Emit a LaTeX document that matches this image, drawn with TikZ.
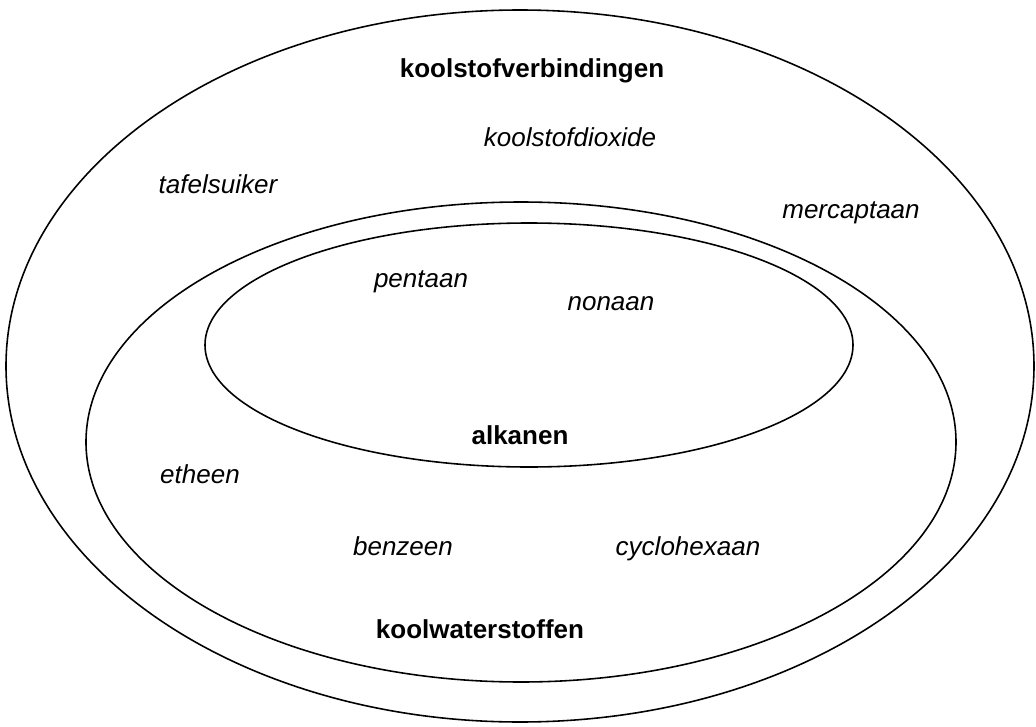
\documentclass[tikz,border=0pt]{standalone}
\usepackage{fontspec}
\setmainfont{Liberation Sans}
\begin{document}
\begin{tikzpicture}[x=0.02cm,y=-0.02cm,
  ring/.style={draw=black,line width=0.9pt},
  lbl/.style={anchor=base,inner sep=0pt,font=\fontsize{14.8pt}{18pt}\selectfont\itshape},
  title/.style={anchor=base,inner sep=0pt,font=\fontsize{14.8pt}{18pt}\selectfont\bfseries}]
\useasboundingbox (0,0) rectangle (1036,727);
\draw[ring] (520,366) ellipse [x radius=514, y radius=356];
\draw[ring] (521,442) ellipse [x radius=435, y radius=240];
\draw[ring] (529,345) ellipse [x radius=324, y radius=122];
\node[title] (kv) at (532,77) {koolstofverbindingen};
\node[lbl] (co2) at (570,146) {koolstofdioxide};
\node[lbl] (ts) at (218,193) {tafelsuiker};
\node[lbl] (mc) at (851,218) {mercaptaan};
\node[lbl] (pt) at (421,287) {pentaan};
\node[lbl] (nn) at (611,310) {nonaan};
\node[title] (ak) at (520,444) {alkanen};
\node[lbl] (et) at (200,483) {etheen};
\node[lbl] (bz) at (403,555) {benzeen};
\node[lbl] (ch) at (688,555) {cyclohexaan};
\node[title] (kw) at (480,638) {koolwaterstoffen};
\end{tikzpicture}
\end{document}
